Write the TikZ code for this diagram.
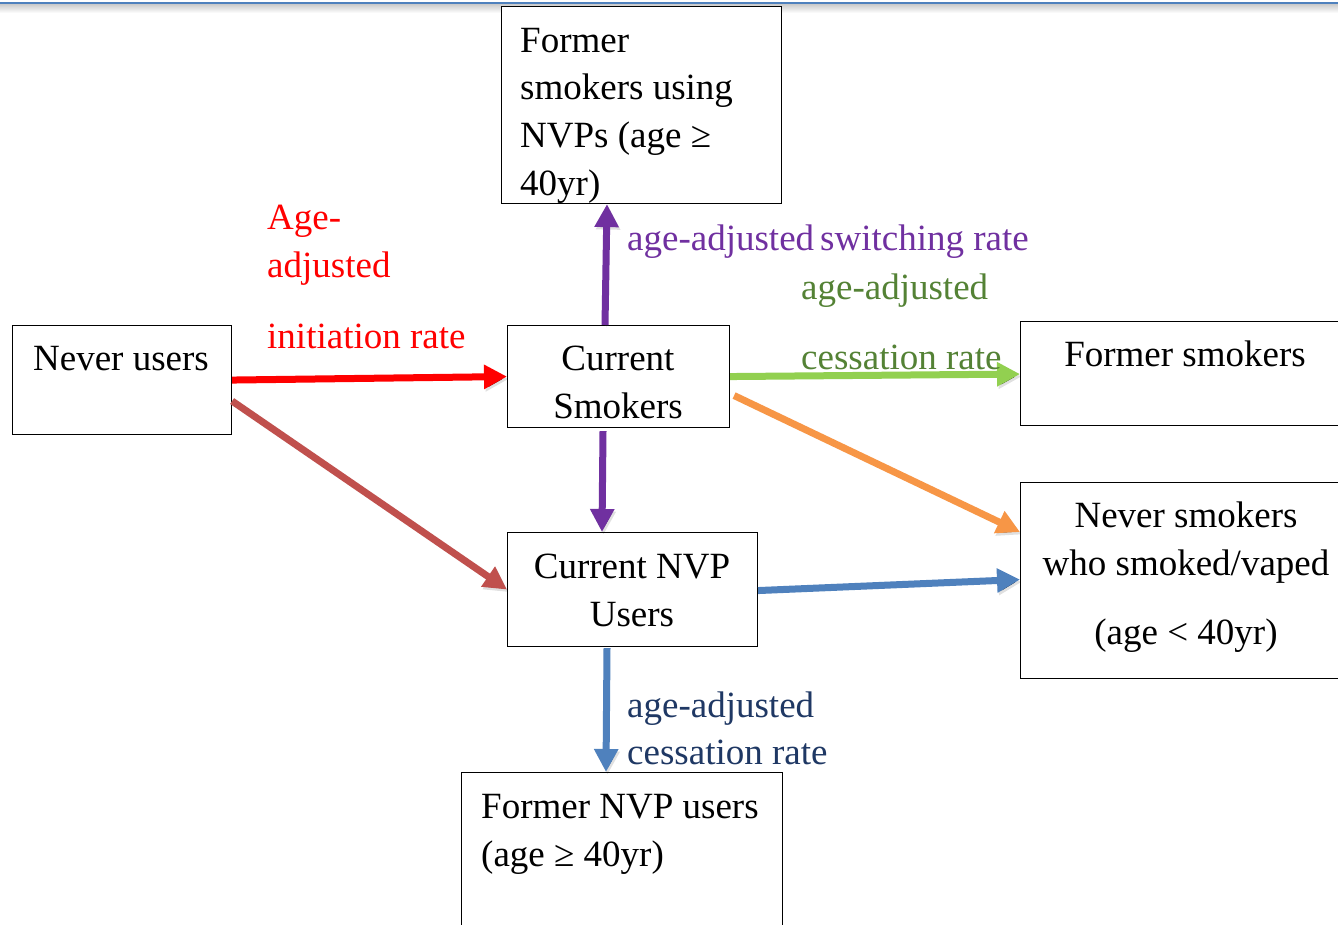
\documentclass[tikz,border=0pt]{standalone}
\usepackage{fontspec}
\setmainfont{Liberation Serif}
\usetikzlibrary{arrows.meta,calc}

\definecolor{cRed}{RGB}{255,0,0}
\definecolor{cBrick}{RGB}{192,80,77}
\definecolor{cPurple}{RGB}{112,48,160}
\definecolor{cLime}{RGB}{146,208,80}
\definecolor{cOrange}{RGB}{247,150,70}
\definecolor{cSteel}{RGB}{79,129,189}
\definecolor{cOlive}{RGB}{84,130,53}
\definecolor{cNavy}{RGB}{31,56,100}
\definecolor{cRule}{RGB}{79,129,189}

\tikzset{
  box/.style={draw=black, line width=1.1pt, fill=white, anchor=north west, inner sep=0pt},
  ln/.style={anchor=base west, inner sep=0pt, font=\fontsize{37}{48}\selectfont},
  lc/.style={anchor=base, inner sep=0pt, font=\fontsize{37}{48}\selectfont},
  flow/.style={line width=7pt, -{Triangle[length=23pt,width=23pt]},
    preaction={draw=black, draw opacity=0.12, transform canvas={shift={(1.5pt,-2.5pt)}}}},
}

\begin{document}
\begin{tikzpicture}[x=1pt,y=-1pt]
\clip (0,0) rectangle (1338,924);
\fill[white] (0,0) rectangle (1338,924);

% rule along the top edge with its soft shadow
\shade[top color=black!22, bottom color=white] (0,3.5) rectangle (1338,13);
\fill[cRule] (0,1.5) rectangle (1338,4);

% state boxes
\node[box, minimum width=280pt, minimum height=197pt] (fsn)  at (501,6)   {};
\node[box, minimum width=219pt, minimum height=109pt] (nu)   at (12,325)  {};
\node[box, minimum width=222pt, minimum height=102pt] (cs)   at (507,325) {};
\node[box, minimum width=318pt, minimum height=104pt] (fs)   at (1020,321) {};
\node[box, minimum width=318pt, minimum height=196pt] (nsv)  at (1020,482) {};
\node[box, minimum width=250pt, minimum height=114pt] (nvp)  at (507,532) {};
\node[box, minimum width=321pt, minimum height=170pt] (fnvp) at (461,772) {};

% box texts
\node[ln] (fsn1) at (520,52)  {Former};
\node[ln] (fsn2) at (520,99)  {smokers using};
\node[ln] (fsn3) at (520,147) {NVPs (age ≥};
\node[ln] (fsn4) at (520,195) {40yr)};

\node[lc] (nu1)  at (121,370) {Never users};

\node[lc] (cs1)  at (618,370) {Current};
\node[lc] (cs2)  at (618,418) {Smokers};

\node[lc] (fs1)  at (1185,366) {Former smokers};

\node[lc] (nsv1) at (1186,527) {Never smokers};
\node[lc] (nsv2) at (1186,575) {who smoked/vaped};
\node[lc] (nsv3) at (1186,644) {(age < 40yr)};

\node[lc] (nvp1) at (632,578) {Current NVP};
\node[lc] (nvp2) at (632,626) {Users};

\node[ln] (fnvp1) at (481,818) {Former NVP users};
\node[ln] (fnvp2) at (481,866) {(age ≥ 40yr)};

% transitions
\draw[flow, cRed]    (nu.east) -- (cs.west);
\draw[flow, cBrick]  ($(nu.east)+(0,21)$) -- (nvp.west);
\draw[flow, cPurple] ($(cs.north west)+(98,0)$) -- ($(fsn.south west)+(106,0)$);
\draw[flow, cPurple] ($(cs.south west)+(96,3)$) -- ($(nvp.north west)+(95,0)$);
\draw[flow, cLime]   (cs.east) -- ($(fs.west)+(0,0.5)$);
\draw[flow, cOrange] ($(cs.east)+(4,19)$) -- ($(nsv.north west)+(0,50)$);
\draw[flow, cSteel]  ($(nvp.east)+(0,1)$) -- ($(nsv.west)+(0,-1)$);
\draw[flow, cSteel]  ($(nvp.south west)+(100,1)$) -- ($(fnvp.north west)+(145,0)$);

% rate labels
\node[ln, text=cRed] (r1) at (267,229) {Age-};
\node[ln, text=cRed] (r2) at (267,277) {adjusted};
\node[ln, text=cRed] (r3) at (267,348) {initiation rate};

\node[ln, text=cPurple] (p1) at (627,250) {age-adjusted\hspace{6pt}switching rate};

\node[ln, text=cOlive] (g1) at (801,299) {age-adjusted};
\node[ln, text=cOlive] (g2) at (801,369) {cessation rate};

\node[ln, text=cNavy] (b1) at (627,717) {age-adjusted};
\node[ln, text=cNavy] (b2) at (627,764) {cessation rate};
\end{tikzpicture}
\end{document}
